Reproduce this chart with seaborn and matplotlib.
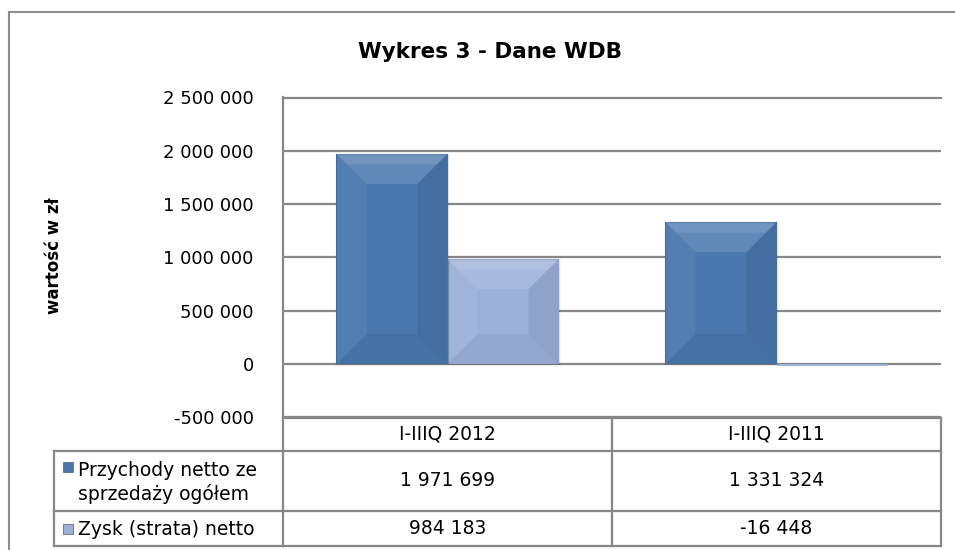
import matplotlib
matplotlib.use("Agg")
import matplotlib.pyplot as plt
import matplotlib.transforms as mtrans
from matplotlib.patches import Rectangle, Polygon
import pandas as pd
import seaborn as sns

# ---- data ----
categories = ["I-IIIQ 2012", "I-IIIQ 2011"]
series_names = ["Przychody netto ze\nsprzedaży ogółem", "Zysk (strata) netto"]
przychody = [1971699, 1331324]
zysk = [984183, -16448]
y_ticks = [-500000, 0, 500000, 1000000, 1500000, 2000000, 2500000]
title = "Wykres 3 - Dane WDB"
y_label = "wartość w zł"


def fmt(v):
    return f"{v:,}".replace(",", " ")


df = pd.DataFrame({
    "kategoria": categories * 2,
    "seria": [series_names[0]] * len(categories) + [series_names[1]] * len(categories),
    "wartosc": przychody + zysk,
})

sns.set_theme(style="white")
plt.rcParams["font.family"] = ["DejaVu Sans"]

W, H = 955, 550
fig = plt.figure(figsize=(9.55, 5.5), dpi=100)
fig.patch.set_facecolor("white")


def fx(px):
    return px / W


def fy(py):
    return 1 - py / H


GRID = "#878787"
colors = ["#4a78ae", "#9cb0d8"]

ax = fig.add_axes([fx(283), fy(417.5), fx(941) - fx(283), fy(97.5) - fy(417.5)])
sns.barplot(data=df, x="kategoria", y="wartosc", hue="seria", palette=colors,
            width=0.675, errorbar=None, saturation=1, legend=False,
            linewidth=0, ax=ax)
ax.set_xlim(-0.5, 1.5)
ax.set_ylim(-500000, 2500000)
ax.set_yticks(y_ticks)
ax.set_yticklabels([fmt(v) for v in y_ticks], fontsize=13, color="black")
ax.set_xticks([])
ax.set_xlabel("")
ax.set_ylabel("")
ax.tick_params(axis="y", length=0, pad=21)
ax.yaxis.grid(True, color=GRID, lw=1.6)
ax.set_axisbelow(True)
for side in ["left", "top", "bottom"]:
    ax.spines[side].set_color(GRID)
    ax.spines[side].set_linewidth(1.6)
ax.spines["right"].set_visible(False)

# subtle bevel shading derived from the drawn bars
ident = mtrans.IdentityTransform()
for cont in ax.containers:
    for p in cont.patches:
        x0, y0, w, h = p.get_x(), p.get_y(), p.get_width(), p.get_height()
        (X0, Ya), (X1, Yb) = ax.transData.transform([(x0, y0), (x0 + w, y0 + h)])
        Y0, Y1 = min(Ya, Yb), max(Ya, Yb)
        if Y1 - Y0 < 12:
            continue
        d = min(30, 0.45 * (X1 - X0), 0.45 * (Y1 - Y0))
        polys = [
            ([(X0, Y1), (X1, Y1), (X1 - d, Y1 - d), (X0 + d, Y1 - d)], "white", 0.13),
            ([(X0, Y1), (X1, Y1), (X1 - d * 0.35, Y1 - d * 0.35), (X0 + d * 0.35, Y1 - d * 0.35)], "white", 0.10),
            ([(X0, Y0), (X1, Y0), (X1 - d, Y0 + d), (X0 + d, Y0 + d)], "black", 0.05),
            ([(X0, Y0), (X0 + d, Y0 + d), (X0 + d, Y1 - d), (X0, Y1)], "white", 0.05),
            ([(X1, Y0), (X1 - d, Y0 + d), (X1 - d, Y1 - d), (X1, Y1)], "black", 0.08),
        ]
        for pts, c, a in polys:
            fig.add_artist(Polygon(pts, closed=True, facecolor=c, alpha=a,
                                   edgecolor="none", transform=ident))
        fig.add_artist(Rectangle((X0, Y0), X1 - X0, Y1 - Y0, fill=False,
                                 edgecolor="#000000", alpha=0.12, lw=1,
                                 transform=ident))

# ---- data table ----
T_TOP, T_H1, T_H2, T_BOT = 418, 451, 511, 546
LBL_LEFT = 54
ax_t = fig.add_axes([fx(LBL_LEFT), fy(T_BOT), fx(941) - fx(LBL_LEFT), fy(T_TOP) - fy(T_BOT)])
ax_t.set_xlim(LBL_LEFT, 941)
ax_t.set_ylim(T_BOT, T_TOP)
ax_t.axis("off")
bt = mtrans.blended_transform_factory(ax.transData, ax_t.transData)
lk = dict(color=GRID, lw=1.6, clip_on=False, solid_capstyle="projecting")

ncat = len(categories)
for b in [i - 0.5 for i in range(ncat + 1)]:
    ax_t.plot([b, b], [T_TOP, T_BOT], transform=bt, **lk)
for yy in [T_H1, T_H2, T_BOT]:
    ax_t.plot([LBL_LEFT, 941], [yy, yy], **lk)
ax_t.plot([LBL_LEFT, LBL_LEFT], [T_H1, T_BOT], **lk)

row_centers = [(T_H1 + T_H2) / 2, (T_H2 + T_BOT) / 2]
for i, c in enumerate(categories):
    ax_t.text(i, (T_TOP + T_H1) / 2, c, transform=bt, ha="center", va="center",
              fontsize=13.5, color="black")
for r, vals in enumerate([przychody, zysk]):
    for i, v in enumerate(vals):
        ax_t.text(i, row_centers[r], fmt(v), transform=bt, ha="center", va="center",
                  fontsize=13.5, color="black")

marker_y = [467, row_centers[1]]
for r, name in enumerate(series_names):
    ax_t.plot([67.5], [marker_y[r]], marker="s", markersize=7, color=colors[r],
              markeredgecolor="#5a6e8c", markeredgewidth=0.6, clip_on=False)
    ax_t.text(78, row_centers[r] + 1, name, ha="left", va="center",
              fontsize=13.5, color="black", linespacing=1.25)

# ---- titles ----
fig.text(fx(490), fy(52), title, ha="center", va="center", fontsize=15.5,
         fontweight="bold", color="black")
fig.text(fx(54), fy(256), y_label, ha="center", va="center", rotation=90,
         fontsize=12, fontweight="bold", color="black")

# outer chart border
fig.add_artist(Rectangle((fx(9), -0.05), 1.0, fy(12) + 0.05, fill=False,
                         edgecolor="#8c8c8c", lw=1.5, transform=fig.transFigure))

fig.savefig("out.png", dpi=100)
